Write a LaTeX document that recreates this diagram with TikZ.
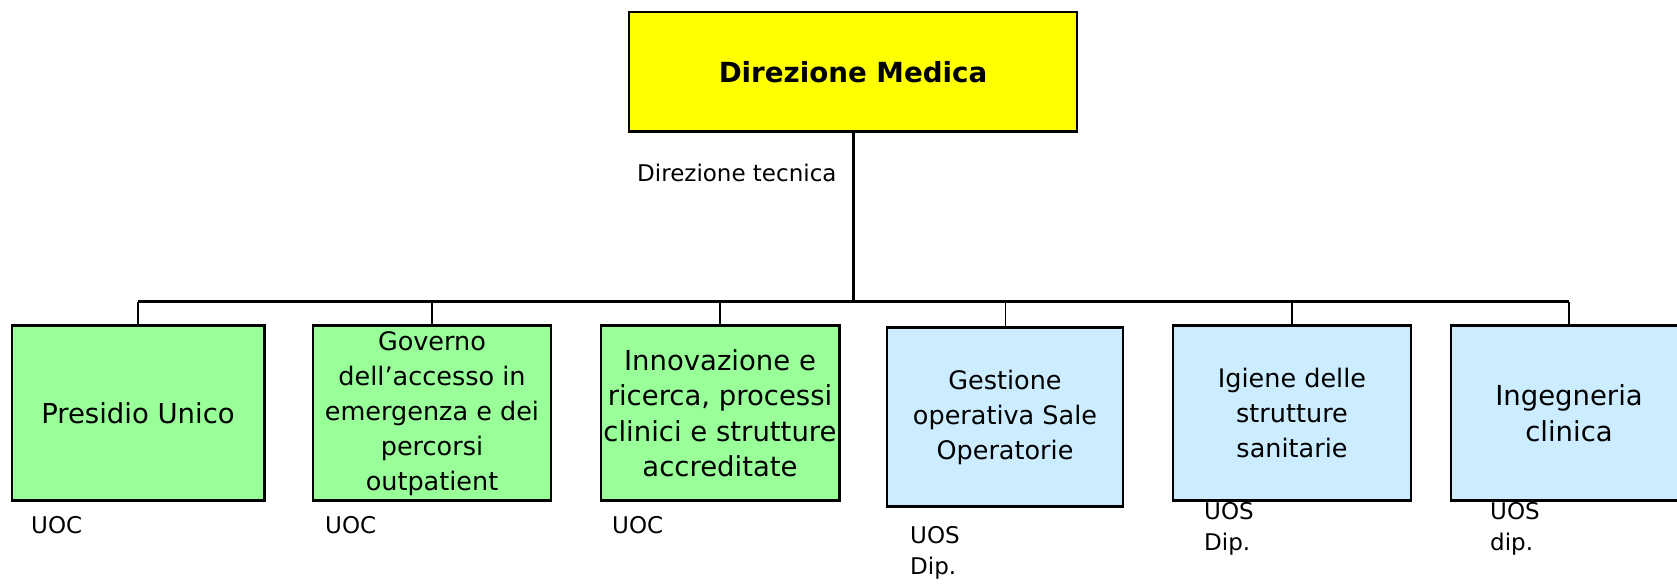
\documentclass[tikz,border=0pt]{standalone}
\usepackage{fontspec}
\setmainfont{DejaVu Sans}

\definecolor{rootyellow}{HTML}{FFFF00}
\definecolor{uocgreen}{HTML}{99FF99}
\definecolor{uosblue}{HTML}{CCECFF}

\def\roottext{\bfseries\fontsize{27.7}{33}\selectfont}
\def\bigtext{\fontsize{27.5}{35.5}\selectfont}
\def\smalltext{\fontsize{25.5}{35}\selectfont}
\def\tagtext{\fontsize{23}{31}\selectfont}

\tikzset{
	orgbox/.style={draw=black,line width=2.5pt,align=center,inner sep=0pt},
	uocbox/.style={orgbox,fill=uocgreen,minimum height=175pt},
	uosbox/.style={orgbox,fill=uosblue,minimum height=175pt},
	tag/.style={align=left,font=\tagtext,inner sep=0pt,anchor=north west},
	bus/.style={line width=2.6pt},
	drop/.style={line width=2pt}
}

\begin{document}
\begin{tikzpicture}[x=1pt,y=-1pt]
			\useasboundingbox (0,0) rectangle (1677,586);
			\clip (0,0) rectangle (1677,586);

			% root
			\node[orgbox,fill=rootyellow,minimum width=448pt,minimum height=119.5pt,font=\roottext] (dirmed) at (853,71.75) {Direzione Medica};
			\node[tag,anchor=base west] (dirtec) at (637,181.7) {Direzione tecnica};

			% UOC
			\node[uocbox,minimum width=252.5pt,font=\bigtext] (presidio) at (138,413.2) {Presidio Unico};
			\node[uocbox,minimum width=238pt,font=\smalltext] (governo) at (432,413.2) {Governo\\dell’accesso in\\emergenza e dei\\percorsi\\outpatient};
			\node[uocbox,minimum width=238.5pt,font=\bigtext] (innovazione) at (720,413.2) {Innovazione e\\ricerca, processi\\clinici e strutture\\accreditate};

			% UOS
			\node[uosbox,minimum width=236pt,minimum height=179pt,font=\smalltext] (gestione) at (1005,417.2) {Gestione\\operativa Sale\\Operatorie};
			\node[uosbox,minimum width=238pt,font=\smalltext] (igiene) at (1292,413.2) {Igiene delle\\strutture\\sanitarie};
			\node[uosbox,minimum width=236pt,font=\bigtext] (ingegneria) at (1569,413.2) {Ingegneria\\clinica};

			% tags
			\node[tag] (presidiotag) at (31,516.7) {UOC};
			\node[tag] (governotag) at (325,516.7) {UOC};
			\node[tag] (innovazionetag) at (612,516.7) {UOC};
			\node[tag] (gestionetag) at (910,526.7) {UOS\\Dip.};
			\node[tag] (igienetag) at (1204,502.7) {UOS\\Dip.};
			\node[tag] (ingegneriatag) at (1490,502.7) {UOS\\dip.};

			% connectors
			\coordinate (hub) at (853,301.7);
			\draw[bus,line width=3pt] (dirmed.south) -- (hub);
			\draw[bus] (presidio.north |- hub) -- (ingegneria.north |- hub);
			\foreach \unit in {presidio,governo,innovazione,igiene,ingegneria}
				\draw[drop] (\unit.north |- hub) -- (\unit.north);
			\draw[line width=1pt] (gestione.north |- hub) -- (gestione.north);
		\end{tikzpicture}
\end{document}
